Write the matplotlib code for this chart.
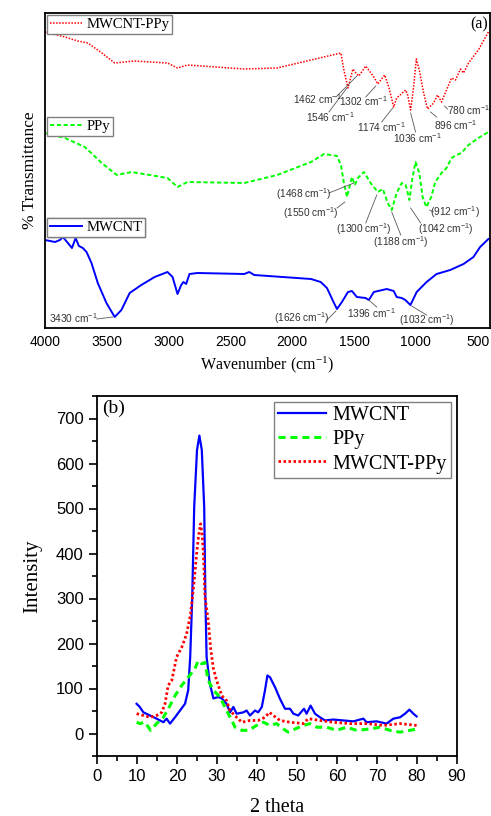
import matplotlib
matplotlib.use("Agg")
import matplotlib.pyplot as plt

# ---- FTIR data (a), transmittance in arbitrary units (curves offset) ----
wn_composite = [4000, 3839, 3734, 3653, 3540, 3436, 3275, 3009, 2928, 2847, 2388, 2122,
                1848, 1606, 1582, 1549, 1509, 1485, 1461, 1405, 1340, 1308, 1252, 1219,
                1179, 1155, 1082, 1066, 1042, 1018, 996, 972, 937, 905, 856, 824, 792,
                752, 711, 679, 639, 614, 574, 494, 413]
t_composite = [296, 291, 287, 285, 275, 265, 267, 265, 260, 263, 259, 260,
               268, 275, 258, 240, 259, 255, 252, 262, 251, 244, 253, 241,
               221, 230, 238, 233, 218, 241, 269, 258, 235, 219, 225, 233, 226,
               238, 250, 248, 259, 255, 265, 278, 296]

wn_ppy = [4000, 3839, 3678, 3541, 3420, 3299, 3009, 2928, 2847, 2388, 2122, 1848,
          1743, 1638, 1606, 1582, 1557, 1517, 1493, 1469, 1420, 1366, 1308, 1267,
          1227, 1195, 1155, 1114, 1082, 1052, 1026, 1002, 972, 945, 915, 875, 843,
          792, 752, 711, 671, 631, 574, 494, 413]
t_ppy = [195, 190, 181, 165, 153, 156, 150, 141, 146, 145, 153, 166,
         174, 172, 163, 145, 131, 151, 143, 150, 156, 145, 136, 139,
         125, 118, 135, 145, 143, 128, 151, 166, 155, 131, 121, 131, 146,
         155, 160, 170, 173, 175, 183, 190, 196]

wn_cnt = [4000, 3919, 3879, 3855, 3815, 3782, 3752, 3726, 3694, 3664, 3624, 3573,
          3503, 3436, 3382, 3315, 3221, 3113, 3009, 2968, 2928, 2898, 2880, 2858,
          2831, 2767, 2388, 2348, 2307, 1848, 1770, 1719, 1662, 1638, 1598, 1549,
          1517, 1477, 1407, 1380, 1340, 1235, 1179, 1155, 1114, 1085, 1044, 993,
          913, 832, 722, 614, 534, 480, 413]
t_cnt = [88, 86, 88, 91, 85, 80, 90, 82, 80, 76, 65, 45,
         25, 11, 18, 35, 43, 51, 56, 51, 34, 43, 46, 44,
         54, 55, 54, 56, 53, 49, 46, 40, 25, 19, 26, 36,
         37, 31, 30, 28, 36, 39, 37, 31, 30, 28, 23, 36,
         46, 54, 58, 64, 71, 81, 89]

# peak labels: text, text position, leader line start, leader line end
peak_labels = [
    ("1462 cm$\\mathregular{^{-1}}$", 1800, 229, 1646, 231, 1477, 252),
    ("1546 cm$\\mathregular{^{-1}}$", 1695, 211, 1703, 216, 1558, 240),
    ("1302 cm$\\mathregular{^{-1}}$", 1421, 227, 1405, 231, 1324, 242),
    ("1174 cm$\\mathregular{^{-1}}$", 1276, 201, 1276, 206, 1187, 220),
    ("1036 cm$\\mathregular{^{-1}}$", 986, 190, 1002, 196, 1042, 215),
    ("896 cm$\\mathregular{^{-1}}$", 679, 203, 832, 211, 881, 216),
    ("780 cm$\\mathregular{^{-1}}$", 574, 218, 744, 219, 768, 222),
    ("(1468 cm$\\mathregular{^{-1}}$)", 1904, 134, 1703, 135, 1501, 145),
    ("(1550 cm$\\mathregular{^{-1}}$)", 1848, 115, 1638, 120, 1574, 126),
    ("(1300 cm$\\mathregular{^{-1}}$)", 1421, 99, 1405, 105, 1316, 133),
    ("(1188 cm$\\mathregular{^{-1}}$)", 1122, 86, 1122, 93, 1195, 116),
    ("(1042 cm$\\mathregular{^{-1}}$)", 760, 99, 961, 105, 1042, 120),
    ("(912 cm$\\mathregular{^{-1}}$)", 687, 116, 857, 116, 889, 118),
    ("3430 cm$\\mathregular{^{-1}}$", 3774, 10, 3581, 9, 3452, 11),
    ("(1626 cm$\\mathregular{^{-1}}$)", 1920, 10, 1719, 8, 1646, 17),
    ("1396 cm$\\mathregular{^{-1}}$", 1356, 15, 1316, 21, 1381, 28),
    ("(1032 cm$\\mathregular{^{-1}}$)", 913, 8, 913, 13, 1034, 22),
]

# ---- XRD data (b) ----
tt_cnt = [9.9, 10.6, 11.6, 13.25, 14.9, 16.6, 17.4, 18.25, 19.5, 20.75, 22.0, 22.8,
          23.3, 23.8, 24.3, 25.0, 25.6, 26.2, 26.8, 27.1, 27.4, 28.2, 29.1, 30.3,
          31.2, 32.4, 33.25, 34.1, 34.9, 36.6, 37.4, 38.25, 39.5, 40.3, 41.2, 42.0,
          42.6, 43.25, 44.5, 45.75, 47.0, 48.25, 49.1, 50.3, 51.75, 52.4, 53.4, 54.5,
          55.75, 57.0, 59.1, 61.6, 64.1, 66.6, 67.4, 69.9, 72.4, 74.1, 75.75, 77.0,
          78.1, 79.1, 79.9]
i_cnt = [66, 60, 47, 40, 33, 25, 33, 22, 36, 51, 66, 96,
         170, 300, 503, 630, 662, 630, 503, 300, 170, 111, 78, 81,
         78, 66, 47, 59, 44, 47, 51, 40, 51, 47, 59, 96,
         129, 125, 103, 77, 55, 55, 44, 40, 55, 44, 62, 44,
         36, 29, 31, 29, 27, 33, 25, 27, 22, 33, 36, 44,
         53, 44, 38]

tt_ppy = [9.9, 10.75, 12.0, 13.4, 14.9, 16.6, 18.25, 19.5, 21.2, 22.8, 24.5, 25.3,
          26.2, 27.0, 27.8, 29.1, 30.75, 32.4, 33.7, 34.5, 36.2, 37.9, 39.9, 41.6,
          43.25, 44.9, 46.6, 47.8, 49.5, 51.6, 53.25, 54.9, 57.4, 59.9, 62.4, 64.9,
          68.25, 70.75, 73.25, 75.75, 78.25, 79.9]
i_ppy = [25, 22, 25, 7, 22, 36, 62, 84, 107, 125, 144, 162,
         155, 158, 118, 96, 81, 51, 29, 14, 7, 7, 18, 25,
         18, 22, 10, 3, 10, 18, 22, 14, 14, 7, 14, 7,
         10, 14, 7, 3, 7, 10]

tt_comp = [9.9, 11.6, 13.25, 14.9, 16.2, 17.0, 17.8, 18.7, 19.9, 21.2, 22.4, 23.4,
           24.2, 24.9, 25.4, 25.9, 26.3, 26.6, 27.0, 27.8, 28.4, 29.1, 29.9, 31.2,
           32.4, 33.25, 34.9, 36.2, 38.25, 40.3, 42.0, 43.1, 44.1, 45.75, 48.25, 51.6,
           52.8, 55.75, 59.1, 63.25, 67.4, 71.6, 75.75, 79.9]
i_comp = [44, 40, 36, 40, 47, 66, 107, 118, 170, 192, 221, 266,
          330, 399, 440, 466, 440, 399, 303, 251, 190, 144, 118, 84,
          73, 51, 36, 25, 29, 29, 36, 47, 40, 29, 25, 22,
          33, 29, 25, 22, 22, 18, 22, 18]

SERIF = "Liberation Serif"
SANS = "Liberation Sans"
plt.rcParams["font.family"] = SANS

fig = plt.figure(figsize=(4.91, 8.16), dpi=100)

# ---------------- (a) FTIR ----------------
ax1 = fig.add_axes([45 / 491, 1 - 328 / 816, 445 / 491, 315 / 816])
l_comp, = ax1.plot(wn_composite, t_composite, color="red", lw=1.1, ls=(0, (1, 1)))
l_ppy, = ax1.plot(wn_ppy, t_ppy, color="lime", lw=1.4, ls=(0, (2.2, 1.3)))
l_cnt, = ax1.plot(wn_cnt, t_cnt, color="blue", lw=1.4)
ax1.set_xlim(4000, 400)
ax1.set_ylim(0, 315)
ax1.set_xticks([4000, 3500, 3000, 2500, 2000, 1500, 1000, 500])
ax1.set_yticks([])
ax1.tick_params(axis="x", length=0, labelsize=10, pad=5)
for s in ax1.spines.values():
    s.set_linewidth(1.3)
ax1.set_xlabel("Wavenumber (cm$\\mathregular{^{-1}}$)", family=SERIF, fontsize=11.5, labelpad=4)
ax1.set_ylabel("% Transmittance", family=SERIF, fontsize=12.5, labelpad=5)
ax1.text(0.975, 0.965, "(a)", transform=ax1.transAxes, family=SERIF, fontsize=11.5,
         ha="center", va="center")

for txt, tx, ty, x0, y0, x1, y1 in peak_labels:
    ax1.plot([x0, x1], [y0, y1], color="0.35", lw=0.6)
    ax1.text(tx, ty, txt, fontsize=7.3, color="0.2", ha="center", va="center")

legend_kw = dict(loc="upper left", prop={"family": SERIF, "size": 10.5}, fancybox=False,
                 edgecolor="0.5", framealpha=1, borderpad=0.2, borderaxespad=0,
                 handlelength=2.2, handletextpad=0.3)
for handle, name, ytop in [(l_comp, "MWCNT-PPy", 0.994), (l_ppy, "PPy", 0.670),
                           (l_cnt, "MWCNT", 0.349)]:
    leg = ax1.legend([handle], [name], bbox_to_anchor=(0.004, ytop), **legend_kw)
    leg.get_frame().set_linewidth(1.0)
    ax1.add_artist(leg)

# ---------------- (b) XRD ----------------
ax2 = fig.add_axes([97 / 491, 1 - 756 / 816, 360 / 491, 360 / 816])
ax2.plot(tt_cnt, i_cnt, color="blue", lw=1.6, label="MWCNT")
ax2.plot(tt_ppy, i_ppy, color="lime", lw=2.2, ls=(0, (2.3, 1.6)), label="PPy")
ax2.plot(tt_comp, i_comp, color="red", lw=2.0, ls=(0, (0.9, 0.9)), label="MWCNT-PPy")
ax2.set_xlim(0, 90)
ax2.set_ylim(-50, 750)
ax2.set_xticks(range(0, 91, 10))
ax2.set_xticks(range(5, 90, 10), minor=True)
ax2.set_yticks(range(0, 701, 100))
ax2.set_yticks(range(-50, 751, 100), minor=True)
ax2.tick_params(which="major", direction="out", length=6, width=1.2, labelsize=12)
ax2.tick_params(which="minor", direction="out", length=3.5, width=1.2)
for s in ax2.spines.values():
    s.set_linewidth(1.3)
ax2.set_xlabel("2 theta", family=SERIF, fontsize=14.5, labelpad=10)
ax2.set_ylabel("Intensity", family=SERIF, fontsize=15, labelpad=10)
ax2.text(0.015, 0.965, "(b)", transform=ax2.transAxes, family=SERIF, fontsize=14,
         ha="left", va="center")
leg2 = ax2.legend(loc="upper right", bbox_to_anchor=(0.983, 0.983), borderaxespad=0,
                  prop={"family": SERIF, "size": 14.5}, fancybox=False, edgecolor="0.5",
                  framealpha=1, borderpad=0.2, labelspacing=0.25, handlelength=2.4,
                  handletextpad=0.3)
leg2.get_frame().set_linewidth(1.0)

fig.savefig("out.png", dpi=100)
